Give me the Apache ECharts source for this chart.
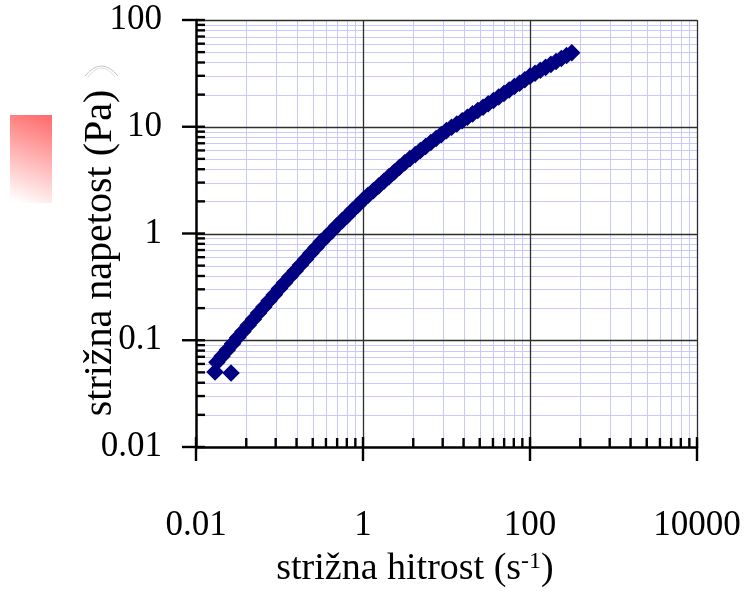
<!DOCTYPE html>
<html>
<head>
<meta charset="utf-8">
<script src="https://cdn.jsdelivr.net/npm/echarts@6/dist/echarts.min.js"></script>
<style>
html,body{margin:0;padding:0;background:#ffffff;}
#chart{width:751px;height:591px;}
</style>
</head>
<body>
<div id="chart"></div>
<script>
// ---- data ----
const shearRate = [
  0.0169, 0.0263,
  0.0178, 0.0205, 0.0237, 0.0274, 0.0316, 0.0365, 0.0422, 0.0487, 0.0562, 0.0649, 0.0750, 0.0866,
  0.100, 0.115, 0.133, 0.154, 0.178, 0.205, 0.237, 0.274, 0.316, 0.365, 0.422, 0.487, 0.562, 0.649, 0.750, 0.866,
  1.00, 1.15, 1.33, 1.54, 1.78, 2.05, 2.37, 2.74, 3.16, 3.65, 4.22, 4.87, 5.62, 6.49, 7.50, 8.66,
  10.0, 11.5, 13.3, 15.4, 17.8, 20.5, 23.7, 27.4, 31.6, 36.5, 42.2, 48.7, 56.2, 64.9, 75.0, 86.6,
  100, 115, 133, 154, 178, 205, 237, 274, 316
];
const shearStress = [
  0.0505, 0.0493,
  0.0622, 0.0710, 0.0811, 0.0926, 0.106, 0.121, 0.138, 0.157, 0.180, 0.205, 0.234, 0.267,
  0.305, 0.346, 0.393, 0.446, 0.506, 0.574, 0.652, 0.740, 0.839, 0.939, 1.05, 1.18, 1.32, 1.47, 1.65, 1.84,
  2.06, 2.28, 2.52, 2.79, 3.08, 3.41, 3.77, 4.17, 4.61, 5.03, 5.48, 5.98, 6.52, 7.11, 7.75, 8.44,
  9.20, 9.89, 10.6, 11.4, 12.3, 13.2, 14.2, 15.2, 16.4, 17.6, 19.0, 20.5, 22.1, 23.8, 25.6, 27.6,
  29.8, 31.7, 33.8, 36.0, 38.4, 40.9, 43.6, 46.4, 49.4
];
const xMajorTicks = [0.01, 1, 100, 10000];
const xTickLabels = ['0.01', '1', '100', '10000'];
const yMajorTicks = [0.01, 0.1, 1, 10, 100];
const yTickLabels = ['0.01', '0.1', '1', '10', '100'];
const xMinorSteps = [4, 9, 16, 25, 36, 49, 64, 81];
const yMinorSteps = [2, 3, 4, 5, 6, 7, 8, 9];
const xTitleMain = 'strižna hitrost (s';
const xTitleSup = '-1';
const xTitleEnd = ')';
const yTitle = 'strižna napetost (Pa)';

// ---- build ----
const FONT = '"Liberation Serif", "Times New Roman", serif';
const points = shearRate.map((x, i) => [x, shearStress[i]]);
const xMinor = [];
xMajorTicks.slice(0, -1).forEach(t => xMinorSteps.forEach(m => xMinor.push(t * m)));
const yMinor = [];
yMajorTicks.slice(0, -1).forEach(t => yMinorSteps.forEach(m => yMinor.push(t * m)));
const XMIN = xMajorTicks[0], XMAX = xMajorTicks[xMajorTicks.length - 1];
const YMIN = yMajorTicks[0], YMAX = yMajorTicks[yMajorTicks.length - 1];

function labelFor(ticks, labels) {
  return function (v) {
    const i = ticks.findIndex(t => Math.abs(Math.log10(t) - Math.log10(v)) < 1e-6);
    return i >= 0 ? labels[i] : '';
  };
}

function renderFrame(params, api) {
  const children = [];
  const crisp = v => Math.round(v) + 0.5;
  const bl = api.coord([XMIN, YMIN]);
  const tr = api.coord([XMAX, YMAX]);
  const left = bl[0], bottom = bl[1], right = tr[0], top = tr[1];
  const minorStyle = { stroke: '#c9c9fb', lineWidth: 1 };
  const majorStyle = { stroke: '#2e2e2e', lineWidth: 1.3 };
  const tickStyle = { stroke: '#000', lineWidth: 2.4 };
  const vline = (x, y1, y2, style) => children.push({ type: 'line', shape: { x1: x, y1: y1, x2: x, y2: y2 }, style: style });
  const hline = (y, x1, x2, style) => children.push({ type: 'line', shape: { x1: x1, y1: y, x2: x2, y2: y }, style: style });
  // minor grid
  xMinor.forEach(v => vline(crisp(api.coord([v, YMIN])[0]), top, bottom, minorStyle));
  yMinor.forEach(v => hline(crisp(api.coord([XMIN, v])[1]), left, right, minorStyle));
  // major grid
  xMajorTicks.slice(1).forEach(v => vline(crisp(api.coord([v, YMIN])[0]), top, bottom, majorStyle));
  yMajorTicks.slice(1).forEach(v => hline(crisp(api.coord([XMIN, v])[1]), left, right, majorStyle));
  // ticks
  xMinor.forEach(v => { const x = api.coord([v, YMIN])[0]; vline(x, bottom - 9, bottom, tickStyle); });
  xMajorTicks.forEach(v => { const x = api.coord([v, YMIN])[0]; vline(x, bottom - 10, bottom + 14, tickStyle); });
  yMinor.forEach(v => { const y = api.coord([XMIN, v])[1]; hline(y, left, left + 9, tickStyle); });
  yMajorTicks.forEach(v => { const y = api.coord([XMIN, v])[1]; hline(y, left - 14, left + 9, tickStyle); });
  return { type: 'group', children: children };
}

const chart = echarts.init(document.getElementById('chart'), null, { renderer: 'canvas' });
chart.setOption({
  animation: false,
  backgroundColor: '#ffffff',
  grid: { left: 196, right: 54, top: 20, bottom: 144 },
  xAxis: {
    type: 'log', logBase: 100, min: XMIN, max: XMAX, z: 10,
    axisLine: { show: true, onZero: false, lineStyle: { color: '#000', width: 2.5 } },
    axisTick: { show: false },
    splitLine: { show: false },
    minorTick: { show: false },
    axisLabel: { fontFamily: FONT, fontSize: 35, color: '#000', margin: 61, formatter: labelFor(xMajorTicks, xTickLabels), showMinLabel: true, showMaxLabel: true }
  },
  yAxis: {
    type: 'log', logBase: 10, min: YMIN, max: YMAX, z: 10,
    axisLine: { show: true, onZero: false, lineStyle: { color: '#000', width: 2.5 } },
    axisTick: { show: false },
    splitLine: { show: false },
    minorTick: { show: false },
    axisLabel: { fontFamily: FONT, fontSize: 35, color: '#000', margin: 34, formatter: labelFor(yMajorTicks, yTickLabels), showMinLabel: true, showMaxLabel: true }
  },
  graphic: [
    {
      type: 'rect', silent: true,
      shape: { x: 10, y: 115, width: 42, height: 88 },
      style: { fill: new echarts.graphic.LinearGradient(0.2, 1, 1, 0, [
        { offset: 0, color: '#ffffff' }, { offset: 1, color: '#ff6868' }
      ]) }
    },
    {
      type: 'bezierCurve', silent: true,
      shape: { x1: 85, y1: 76, x2: 118, y2: 76, cpx1: 101.5, cpy1: 56 },
      style: { stroke: '#c4c4c4', lineWidth: 1, fill: null }
    },
    {
      type: 'bezierCurve', silent: true,
      shape: { x1: 88, y1: 77, x2: 115, y2: 77, cpx1: 101.5, cpy1: 59 },
      style: { stroke: '#dddddd', lineWidth: 1, fill: null }
    },
    {
      type: 'text', x: 100, y: 253, rotation: Math.PI / 2,
      style: { text: yTitle, fontFamily: FONT, fontSize: 40, fill: '#000', align: 'center', verticalAlign: 'middle' }
    },
    {
      type: 'text', x: 415, y: 569,
      style: {
        text: '{m|' + xTitleMain + '}{s|' + xTitleSup + '}{m|' + xTitleEnd + '}',
        align: 'center', verticalAlign: 'middle', fill: '#000',
        rich: {
          m: { fontFamily: FONT, fontSize: 38, fill: '#000', color: '#000' },
          s: { fontFamily: FONT, fontSize: 24, fill: '#000', color: '#000', verticalAlign: 'top' }
        }
      }
    }
  ],
  series: [
    {
      type: 'custom', coordinateSystem: 'cartesian2d', data: [[1, 1]],
      renderItem: renderFrame, silent: true, clip: false, z: 1
    },
    {
      type: 'scatter', data: points, symbol: 'diamond', symbolSize: 14, z: 3,
      itemStyle: { color: '#000080', borderColor: '#000080', borderWidth: 2.5, opacity: 1 }
    }
  ]
});
</script>
</body>
</html>
